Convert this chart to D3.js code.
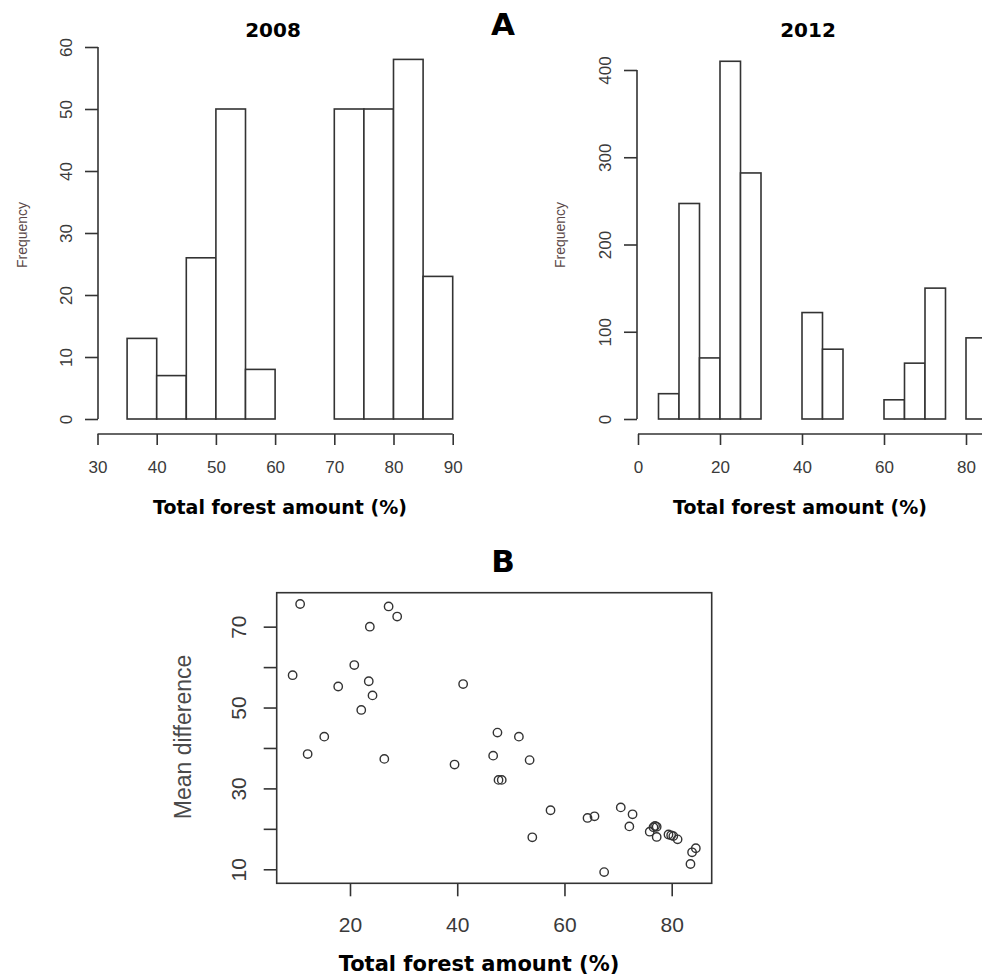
<!DOCTYPE html>
<html>
<head>
<meta charset="utf-8">
<script src="https://cdn.jsdelivr.net/npm/d3@7"></script>
<style>
  body { margin: 0; background: #fff; }
  svg { font-family: "Liberation Sans", Arial, sans-serif; display: block; }
  .bold { font-family: "DejaVu Sans", "Liberation Sans", sans-serif; font-weight: bold; }
</style>
</head>
<body>
<svg id="chart" width="982" height="978"></svg>
<script>
// histogram 2008: bins of 5 from 35 to 90
var bins2008 = [35, 40, 45, 50, 55, 60, 65, 70, 75, 80, 85];
var freq2008 = [13, 7, 26, 50, 8, 0, 0, 50, 50, 58, 23];
var xTicks2008 = [30, 40, 50, 60, 70, 80, 90];
var yTicks2008 = [0, 10, 20, 30, 40, 50, 60];

// histogram 2012: bins of 5 from 5 to 85
var bins2012 = [5, 10, 15, 20, 25, 30, 35, 40, 45, 50, 55, 60, 65, 70, 75, 80];
var freq2012 = [29, 247, 70, 410, 282, 0, 0, 122, 80, 0, 0, 22, 64, 150, 0, 93];
var xTicks2012 = [0, 20, 40, 60, 80];
var yTicks2012 = [0, 100, 200, 300, 400];

// scatter: total forest amount vs mean difference
var forest = [10.7, 27.2, 28.8, 23.7, 20.8, 9.3, 17.8, 23.5, 24.2, 22.1, 41.1,
              15.2, 12.1, 26.4, 39.5,
              47.5, 51.5, 46.7, 53.5, 47.7, 48.3,
              57.4, 54.0, 64.3, 65.6, 67.4, 70.5, 72.7, 72.1,
              75.9, 76.6, 76.9, 77.2, 77.2,
              79.4, 79.9, 80.3, 81.1,
              84.5, 83.8, 83.5];
var meanDiff = [75.6, 75.0, 72.5, 70.0, 60.5, 58.0, 55.2, 56.5, 53.0, 49.4, 55.8,
                42.8, 38.5, 37.3, 35.9,
                43.8, 42.8, 38.1, 37.0, 32.1, 32.1,
                24.6, 17.9, 22.7, 23.1, 9.3, 25.3, 23.6, 20.6,
                19.3, 20.4, 20.7, 20.5, 18.0,
                18.6, 18.4, 18.2, 17.4,
                15.2, 14.2, 11.3];
var scatterXTicks = [20, 40, 60, 80];
var scatterYTicks = [10, 20, 30, 40, 50, 60, 70];
var scatterYLabels = [10, 30, 50, 70];

var ink = "#333";
var svg = d3.select("#chart");

function styleAxis(g) {
    g.selectAll("path, line").attr("stroke", ink).attr("stroke-width", 1.6);
    g.selectAll("text").attr("fill", "#3a3a3a");
}

function histogram(opt) {
    var x = d3.scaleLinear().domain(opt.xDomain).range(opt.xRange);
    var y = d3.scaleLinear().domain(opt.yDomain).range(opt.yRange);
    var g = svg.append("g");

    g.selectAll("rect")
        .data(opt.freq)
        .enter().append("rect")
        .attr("x", function(d, i) { return x(opt.bins[i]); })
        .attr("y", function(d) { return y(d); })
        .attr("width", function(d, i) { return x(opt.bins[i] + 5) - x(opt.bins[i]); })
        .attr("height", function(d) { return y(0) - y(d); })
        .attr("fill", "#fff")
        .attr("stroke", ink)
        .attr("stroke-width", 1.6);

    // R-style detached axes
    var ya = g.append("g")
        .attr("transform", "translate(" + opt.yAxisX + ",0)")
        .call(d3.axisLeft(y).tickValues(opt.yTicks).tickSize(13).tickSizeOuter(0).tickPadding(0));
    ya.select(".domain").attr("d", "M0," + y(opt.yTicks[0]) + "V" + y(opt.yTicks[opt.yTicks.length - 1]));
    ya.selectAll("text")
        .attr("transform", "rotate(-90)")
        .attr("x", 0).attr("y", -26).attr("dy", 0)
        .style("text-anchor", "middle")
        .style("font-size", "17px");
    styleAxis(ya);

    var xa = g.append("g")
        .attr("transform", "translate(0," + opt.xAxisY + ")")
        .call(d3.axisBottom(x).tickValues(opt.xTicks).tickSize(11).tickSizeOuter(0).tickPadding(0));
    xa.select(".domain").attr("d", "M" + x(opt.xTicks[0]) + ",0H" + x(opt.axisEnd));
    xa.selectAll("text").attr("y", 39).attr("dy", 0).style("font-size", "17px");
    styleAxis(xa);

    g.append("text")
        .attr("class", "bold")
        .attr("x", opt.titleX).attr("y", 37)
        .attr("text-anchor", "middle")
        .style("font-size", "20px")
        .text(opt.title);

    g.append("text")
        .attr("transform", "translate(" + opt.freqX + ",235) rotate(-90)")
        .attr("text-anchor", "middle")
        .attr("fill", "#5a4848")
        .style("font-size", "14px")
        .text("Frequency");

    g.append("text")
        .attr("class", "bold")
        .attr("x", opt.labelX).attr("y", 514)
        .attr("text-anchor", "middle")
        .style("font-size", "19px")
        .text("Total forest amount (%)");
}

histogram({
    bins: bins2008, freq: freq2008, xTicks: xTicks2008, yTicks: yTicks2008,
    xDomain: [30, 90], xRange: [97.5, 452.7], axisEnd: 90,
    yDomain: [0, 60], yRange: [419, 47],
    yAxisX: 98, xAxisY: 434,
    title: "2008", titleX: 273, freqX: 27, labelX: 280
});

histogram({
    bins: bins2012, freq: freq2012, xTicks: xTicks2012, yTicks: yTicks2012,
    xDomain: [0, 80], xRange: [638, 966], axisEnd: 100,
    yDomain: [0, 400], yRange: [419, 70],
    yAxisX: 637, xAxisY: 434,
    title: "2012", titleX: 808, freqX: 565, labelX: 800
});

svg.append("text")
    .attr("class", "bold")
    .attr("x", 503).attr("y", 35)
    .attr("text-anchor", "middle")
    .style("font-size", "31px")
    .text("A");

// scatter panel B
var sx = d3.scaleLinear().domain([6.33, 87.46]).range([276.7, 711.7]);
var sy = d3.scaleLinear().domain([6.53, 78.4]).range([883.3, 592.7]);
var sg = svg.append("g");

sg.append("rect")
    .attr("x", sx.range()[0]).attr("y", sy.range()[1])
    .attr("width", sx.range()[1] - sx.range()[0])
    .attr("height", sy.range()[0] - sy.range()[1])
    .attr("fill", "none").attr("stroke", ink).attr("stroke-width", 1.6);

var sxa = sg.append("g")
    .attr("transform", "translate(0," + sy.range()[0] + ")")
    .call(d3.axisBottom(sx).tickValues(scatterXTicks).tickSize(13).tickSizeOuter(0).tickPadding(0));
sxa.select(".domain").remove();
sxa.selectAll("text").attr("y", 49).attr("dy", 0).style("font-size", "21px");
styleAxis(sxa);

var sya = sg.append("g")
    .attr("transform", "translate(" + sx.range()[0] + ",0)")
    .call(d3.axisLeft(sy).tickValues(scatterYTicks).tickSize(13).tickSizeOuter(0).tickPadding(0)
        .tickFormat(function(d) { return scatterYLabels.indexOf(d) >= 0 ? d : ""; }));
sya.select(".domain").remove();
sya.selectAll("text")
    .attr("transform", "rotate(-90)")
    .attr("x", 0).attr("y", -31).attr("dy", 0)
    .style("text-anchor", "middle")
    .style("font-size", "21px");
styleAxis(sya);

sg.selectAll("circle")
    .data(forest)
    .enter().append("circle")
    .attr("cx", function(d) { return sx(d); })
    .attr("cy", function(d, i) { return sy(meanDiff[i]); })
    .attr("r", 4.2)
    .attr("fill", "none")
    .attr("stroke", ink)
    .attr("stroke-width", 1.4);

sg.append("text")
    .attr("transform", "translate(191,737) rotate(-90)")
    .attr("text-anchor", "middle")
    .attr("fill", "#4a4a4a")
    .style("font-size", "23px")
    .text("Mean difference");

sg.append("text")
    .attr("class", "bold")
    .attr("x", 479).attr("y", 971)
    .attr("text-anchor", "middle")
    .style("font-size", "21px")
    .text("Total forest amount (%)");

sg.append("text")
    .attr("class", "bold")
    .attr("x", 503).attr("y", 572)
    .attr("text-anchor", "middle")
    .style("font-size", "31px")
    .text("B");
</script>
</body>
</html>
